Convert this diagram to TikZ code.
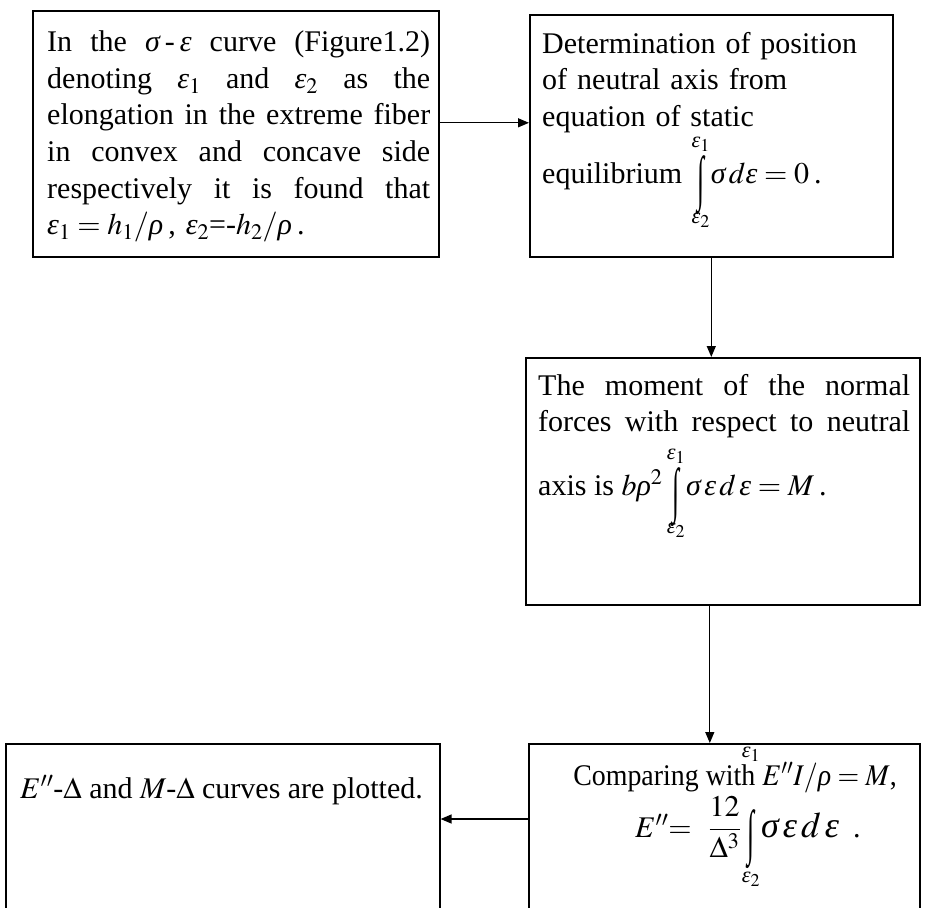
\documentclass[tikz,border=0pt]{standalone}
\usepackage{amsmath}
\usepackage{graphicx}
\usepackage{mathptmx}
\usepackage{fontspec}
\setmainfont{Liberation Serif}
\usetikzlibrary{arrows.meta,calc}
\renewcommand{\sigma}{\text{\itshape σ}}
\renewcommand{\varepsilon}{\text{\itshape ε}}
\renewcommand{\rho}{\text{\itshape ρ}}
\newcommand{\jline}[2]{\makebox[#1][s]{\spaceskip=0pt\xspaceskip=0pt\relax #2}}
% #1 sign height, #2 lower limit, #3 upper limit, #4 raise of upper limit, #5 raise of lower limit (from baseline)
\newcommand{\myint}[5]{\mathop{\raisebox{-15pt}{\resizebox*{7pt}{#1}{∫}}\kern-3.5pt\makebox[0pt]{\raisebox{#4}[0pt][0pt]{$\scriptstyle #3$}}\makebox[0pt]{\raisebox{#5}[0pt][0pt]{$\scriptstyle #2$}}\kern3.5pt}}
\tikzset{
  box/.style={draw, line width=1.6pt, inner sep=0pt, anchor=north west},
  txt/.style={inner sep=0pt, anchor=base west, align=left, font=\fontsize{30}{36.5}\selectfont},
  ctxt/.style={inner sep=0pt, anchor=base, font=\fontsize{30}{36.5}\selectfont},
  arr/.style={line width=1.3pt, -{Triangle[length=11pt,width=9pt]}}
}
\begin{document}
\begin{tikzpicture}[x=1pt,y=-1pt]
\useasboundingbox (0,0) rectangle (936,907);
\clip (0,0) rectangle (936,907);
% boxes
\node[box, minimum width=406pt, minimum height=246pt] (b1) at (32,10) {};
\node[box, minimum width=363pt, minimum height=242pt] (b2) at (529,14) {};
\node[box, minimum width=394pt, minimum height=247pt] (b3) at (525,357) {};
\node[box, minimum width=391pt, minimum height=200pt] (b4) at (528,743) {};
\node[box, minimum width=434pt, minimum height=200pt] (b5) at (5,743) {};
% box 1 text
\node[txt, text width=383pt] (t1) at (47,52) {%
\jline{383pt}{In the $\sigma$\,-\,$\varepsilon$ curve (Figure1.2)}\\
\jline{383pt}{denoting $\varepsilon_1$ and $\varepsilon_2$ as the}\\
\jline{383pt}{elongation in the extreme fiber}\\
\jline{383pt}{in convex and concave side}\\
\jline{383pt}{respectively it is found that}\\
$\varepsilon_1 = h_1 / \rho$\,, $\varepsilon_2$=-$h_2 / \rho$\,.};
% box 2 text
\node[txt, text width=340pt] (t2) at (542,53) {%
Determination of position\\
of neutral axis from\\
equation of static};
\node[txt] (t2b) at (542,183) {equilibrium \ $\myint{59pt}{\varepsilon_2}{\varepsilon_1}{36pt}{-40pt}\,\sigma\,d\varepsilon = 0$\,.};
% box 3 text
\node[txt, text width=372pt] (t3) at (538,395) {%
\jline{372pt}{The moment of the normal}\\
\jline{372pt}{forces with respect to neutral}};
\node[txt] (t3b) at (538,495) {axis is $b\rho^2\;\myint{59pt}{\varepsilon_2}{\varepsilon_1}{36pt}{-38pt}\,\sigma\,\varepsilon\,d\,\varepsilon = M$\,.};
% box 4 text
\node[ctxt] (t4) at (735,785) {\scalebox{0.93}[1]{Comparing with $E''I/\rho = M$,}};
\node[txt] (t4b) at (635,837) {$E''\!\!=\hspace{10pt}\dfrac{12}{\Delta^3}\,\myint{59pt}{\varepsilon_2}{\varepsilon_1}{80pt}{-45pt}\,\scalebox{1.2}{$\sigma\,\varepsilon\,d\,\varepsilon$}$\hspace{14pt}.};
% box 5 text
\node[txt] (t5) at (20,798) {$E''$-$\Delta$ and $M$-$\Delta$ curves are plotted.};
% connectors
\draw[arr] ([yshift=11pt]b1.east) -- ([yshift=11pt]b1.east -| b2.west);
\draw[arr] (b2.south) -- (b2.south |- b3.north);
\draw[arr] ([xshift=-13pt]b3.south) -- ([xshift=-13pt]b3.south |- b4.north);
\coordinate (c45) at (528,819);
\draw[arr] (c45 -| b4.west) -- (c45 -| b5.east);
\end{tikzpicture}
\end{document}
